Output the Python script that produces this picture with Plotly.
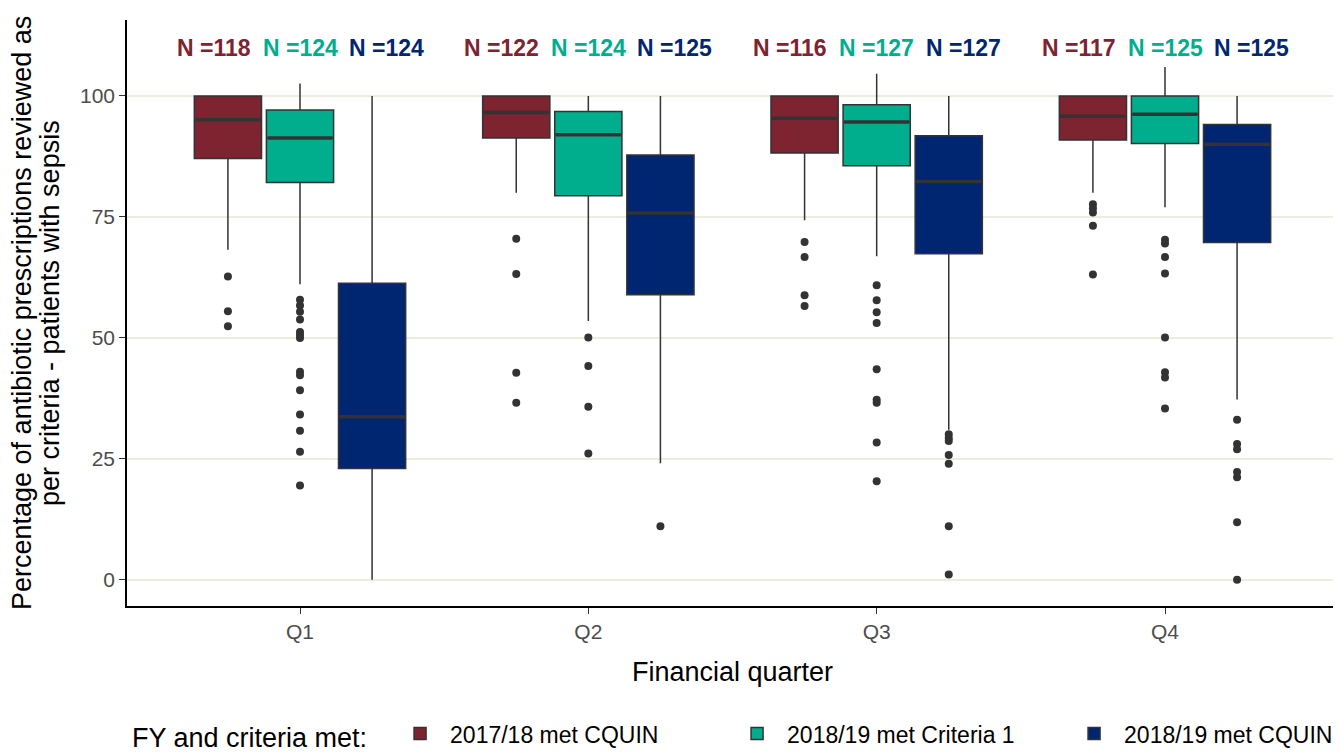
import plotly.graph_objects as go

# Data
quarters = ["Q1", "Q2", "Q3", "Q4"]
groups = ["2017/18 met CQUIN", "2018/19 met Criteria 1", "2018/19 met CQUIN"]
colors = ["#7E2330", "#00AE8E", "#002672"]

n_2017_cquin = [118, 122, 116, 117]
n_2018_crit1 = [124, 124, 127, 125]
n_2018_cquin = [124, 125, 127, 125]

# box stats per quarter: q1, median, q3, lower whisker, upper whisker
q1_2017_cquin = [87.1, 91.3, 88.2, 90.9]
med_2017_cquin = [95.1, 96.6, 95.4, 95.8]
q3_2017_cquin = [100, 100, 100, 100]
lo_2017_cquin = [68.2, 80.0, 74.3, 80.0]
hi_2017_cquin = [100, 100, 100, 100]

q1_2018_crit1 = [82.1, 79.4, 85.6, 90.2]
med_2018_crit1 = [91.3, 92.0, 94.6, 96.2]
q3_2018_crit1 = [97.1, 96.8, 98.2, 100]
lo_2018_crit1 = [61.1, 53.5, 66.9, 77.0]
hi_2018_crit1 = [102.6, 100, 104.6, 106.0]

q1_2018_cquin = [23.0, 58.9, 67.4, 69.7]
med_2018_cquin = [33.7, 75.8, 82.3, 90.0]
q3_2018_cquin = [61.3, 87.8, 91.8, 94.1]
lo_2018_cquin = [0, 24.1, 31.0, 37.3]
hi_2018_cquin = [100, 100, 100, 100]

# outliers per quarter
out_2017_cquin = [
    [62.7, 55.5, 52.4],
    [70.5, 63.2, 42.8, 36.6],
    [69.8, 66.7, 58.8, 56.6],
    [77.6, 76.8, 75.9, 73.2, 63.1],
]
out_2018_crit1 = [
    [57.9, 56.7, 55.4, 53.8, 51.2, 50.6, 50.0, 43.0, 42.3, 39.2, 34.2, 30.8, 26.5, 19.5],
    [50.1, 44.2, 35.8, 26.1],
    [60.9, 57.8, 55.3, 53.1, 43.5, 37.2, 36.6, 28.4, 20.4],
    [70.3, 69.5, 66.7, 63.3, 50.1, 42.9, 41.8, 35.4],
]
out_2018_cquin = [
    [],
    [11.1],
    [30.1, 29.3, 28.7, 25.8, 24.0, 11.1, 1.1],
    [33.1, 28.1, 27.0, 22.3, 21.2, 11.9, 0.0],
]

series = [
    (n_2017_cquin, q1_2017_cquin, med_2017_cquin, q3_2017_cquin, lo_2017_cquin, hi_2017_cquin, out_2017_cquin),
    (n_2018_crit1, q1_2018_crit1, med_2018_crit1, q3_2018_crit1, lo_2018_crit1, hi_2018_crit1, out_2018_crit1),
    (n_2018_cquin, q1_2018_cquin, med_2018_cquin, q3_2018_cquin, lo_2018_cquin, hi_2018_cquin, out_2018_cquin),
]

y_title_lines = ["Percentage of antibiotic prescriptions reviewed as",
                 "per criteria - patients with sepsis"]

FONT = "Liberation Sans, Arial, sans-serif"
box_offsets = [-0.25, 0, 0.25]
label_offsets = [-0.3, 0, 0.3]
box_w = 0.233
qpos = list(range(1, len(quarters) + 1))

# page body has an 8px margin, so the figure is sized to fit the window
W, H = 1333, 745
ML, MR, MT, MB = 119, 3, 12, 147
plot_w = W - ML - MR

fig = go.Figure()

for g, (name, col, s) in enumerate(zip(groups, colors, series)):
    n, q1, med, q3, lo, hi, outs = s
    xs = [p + box_offsets[g] for p in qpos]
    fig.add_trace(go.Box(
        x=xs, q1=q1, median=med, q3=q3, lowerfence=lo, upperfence=hi,
        name=name, fillcolor=col, line=dict(color="#333333", width=1.5),
        width=box_w, whiskerwidth=0, boxpoints=False, opacity=1,
    ))
    # thicker median segments (like ggplot)
    mx, my = [], []
    for x, m in zip(xs, med):
        mx += [x - box_w / 2 + 0.004, x + box_w / 2 - 0.004, None]
        my += [m, m, None]
    fig.add_trace(go.Scatter(x=mx, y=my, mode="lines", line=dict(color="#333333", width=3.5),
                             showlegend=False, hoverinfo="skip"))
    # outliers
    ox, oy = [], []
    for x, pts in zip(xs, outs):
        ox += [x] * len(pts)
        oy += pts
    fig.add_trace(go.Scatter(x=ox, y=oy, mode="markers", marker=dict(color="#333333", size=8),
                             showlegend=False, hoverinfo="skip"))
    # N labels
    for p, cnt in zip(qpos, n):
        fig.add_annotation(x=p + label_offsets[g], y=110, text=f"<b>N ={cnt}</b>",
                           showarrow=False, font=dict(family=FONT, size=23, color=col))

# y axis title as two rotated lines (tighter line spacing like ggplot)
for i, line in enumerate(y_title_lines):
    fig.add_annotation(xref="paper", yref="paper", x=(14 + 28 * i - ML) / plot_w, y=0.5,
                       text=line, textangle=-90, showarrow=False,
                       xanchor="center", yanchor="middle",
                       font=dict(family=FONT, size=27, color="black"))

fig.update_layout(
    width=W, height=H,
    plot_bgcolor="white", paper_bgcolor="white",
    margin=dict(l=ML, r=MR, t=MT, b=MB, autoexpand=False),
    font=dict(family=FONT, color="black"),
    boxmode="overlay",
    xaxis=dict(
        range=[0.4, 4.6], tickmode="array", tickvals=qpos, ticktext=quarters,
        showgrid=False, zeroline=False, showline=True, linecolor="black", linewidth=1.5,
        ticks="outside", ticklen=6, tickcolor="#333333", automargin=False,
        tickfont=dict(family=FONT, size=21, color="#4D4D4D"),
        title=dict(text="Financial quarter", font=dict(family=FONT, size=27, color="black"), standoff=20),
    ),
    yaxis=dict(
        range=[-5.4, 115.7], tickvals=[0, 25, 50, 75, 100],
        showgrid=True, gridcolor="#ECECDF", gridwidth=1.5, zeroline=False,
        showline=True, linecolor="black", linewidth=1.5,
        ticks="outside", ticklen=6, tickcolor="#333333", automargin=False,
        tickfont=dict(family=FONT, size=21, color="#4D4D4D"),
    ),
    legend=dict(
        orientation="h", xref="container", x=0.0915, xanchor="left",
        yref="container", y=0.024, yanchor="middle",
        title=dict(text="FY and criteria met:  ", font=dict(family=FONT, size=27, color="black")),
        font=dict(family=FONT, size=23, color="black"),
        itemwidth=50, entrywidth=272, entrywidthmode="pixels",
    ),
)

fig.write_html("out.html")
